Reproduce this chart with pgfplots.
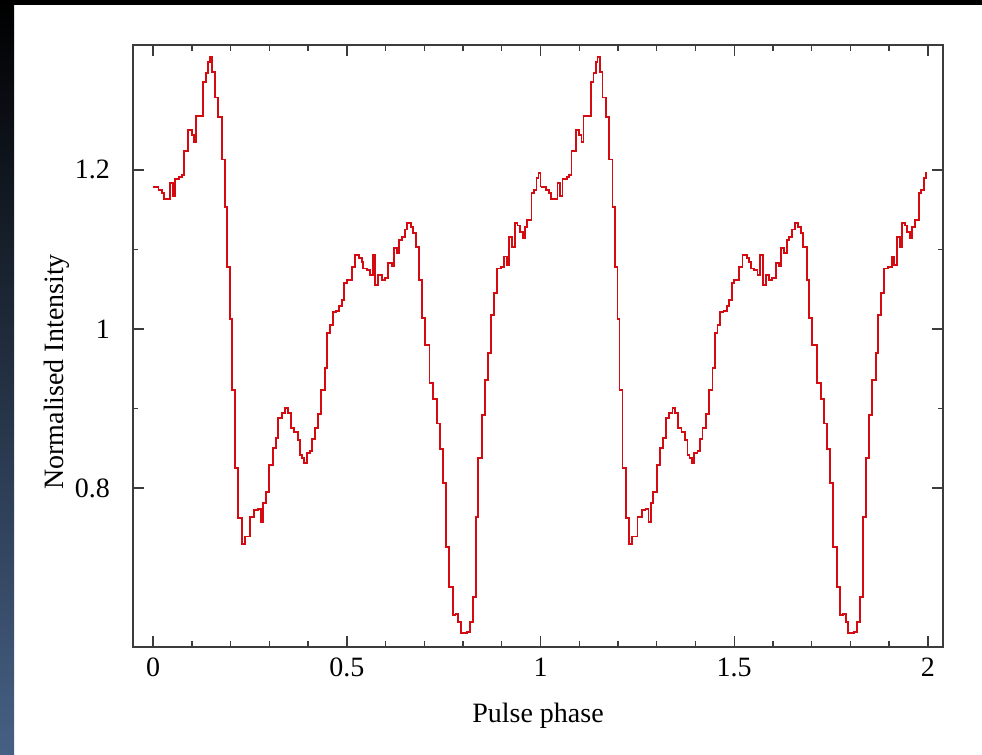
\documentclass[border=0pt]{standalone}
\usepackage{pgfplots}
\usepackage{pgfplotstable}
\pgfplotsset{compat=1.18}
\usepackage{fontspec}
\setmainfont{Liberation Serif}
\definecolor{plotred}{RGB}{212,12,18}
\definecolor{axgray}{RGB}{60,60,60}
\definecolor{slideblue}{RGB}{70,96,132}
\pgfplotstableread{
x y
0.0000 1.179
0.0137 1.175
0.0225 1.171
0.0270 1.163
0.0439 1.184
0.0508 1.167
0.0568 1.188
0.0679 1.191
0.0735 1.193
0.0800 1.224
0.0911 1.250
0.0999 1.244
0.1058 1.235
0.1110 1.268
0.1298 1.311
0.1368 1.322
0.1427 1.336
0.1471 1.342
0.1530 1.323
0.1600 1.291
0.1685 1.267
0.1773 1.213
0.1858 1.153
0.1917 1.078
0.1987 1.012
0.2039 0.923
0.2116 0.825
0.2201 0.762
0.2289 0.729
0.2361 0.739
0.2503 0.763
0.2614 0.772
0.2710 0.774
0.2787 0.757
0.2846 0.781
0.2908 0.795
0.3001 0.829
0.3089 0.850
0.3166 0.863
0.3234 0.888
0.3321 0.894
0.3406 0.900
0.3476 0.894
0.3554 0.875
0.3639 0.870
0.3734 0.860
0.3794 0.841
0.3845 0.838
0.3905 0.831
0.3966 0.844
0.4052 0.846
0.4111 0.861
0.4181 0.875
0.4266 0.893
0.4344 0.923
0.4439 0.951
0.4498 0.995
0.4568 1.005
0.4637 1.021
0.4723 1.023
0.4808 1.029
0.4870 1.036
0.4937 1.058
0.4999 1.062
0.5128 1.078
0.5213 1.093
0.5324 1.089
0.5386 1.084
0.5427 1.076
0.5515 1.074
0.5600 1.068
0.5670 1.093
0.5737 1.055
0.5814 1.068
0.5902 1.062
0.5987 1.064
0.6072 1.083
0.6160 1.079
0.6219 1.102
0.6289 1.096
0.6356 1.112
0.6418 1.116
0.6503 1.125
0.6563 1.133
0.6658 1.128
0.6717 1.121
0.6787 1.103
0.6872 1.062
0.6934 1.014
0.7019 0.980
0.7135 0.932
0.7234 0.912
0.7321 0.881
0.7406 0.849
0.7476 0.806
0.7561 0.726
0.7646 0.675
0.7734 0.640
0.7806 0.642
0.7879 0.631
0.7948 0.618
0.8103 0.619
0.8181 0.631
0.8250 0.663
0.8328 0.764
0.8395 0.838
0.8483 0.892
0.8568 0.936
0.8653 0.970
0.8723 1.018
0.8800 1.045
0.8870 1.076
0.8981 1.078
0.9066 1.091
0.9128 1.080
0.9195 1.116
0.9272 1.103
0.9342 1.133
0.9406 1.130
0.9471 1.122
0.9540 1.114
0.9600 1.128
0.9659 1.137
0.9768 1.171
0.9832 1.175
0.9897 1.190
0.9948 1.196
0.9975 1.196
}\profile
\begin{document}
\begin{tikzpicture}[x=1pt,y=1pt]
\useasboundingbox (0,0) rectangle (491,377.5);
\fill[white] (0,0) rectangle (491,377.5);
\shade[top color=black, bottom color=slideblue] (0,0) rectangle (7,377.5);
\fill[black] (0,375) rectangle (491,377.5);
\begin{axis}[
  at={(66.5pt,54pt)}, anchor=south west,
  scale only axis, width=405pt, height=301pt,
  xmin=-0.052, xmax=2.039, ymin=0.6, ymax=1.357,
  xtick={0,0.5,1,1.5,2}, ytick={0.8,1,1.2},
  minor x tick num=4, minor y tick num=1,
  tick align=inside, tick pos=both,
  major tick length=5.5pt, minor tick length=2.75pt,
  axis line style={axgray, line width=0.9pt},
  every tick/.style={axgray, line width=0.7pt},
  /pgf/number format/assume math mode=true,
  ticklabel style={font=\fontsize{14}{16}\selectfont, text=black},
  xticklabel style={yshift=-2pt},
  yticklabel style={xshift=-8pt},
  xlabel={Pulse phase}, ylabel={Normalised Intensity},
  label style={font=\fontsize{14}{16}\selectfont},
  xlabel style={at={(axis description cs:0.5,-0.115)}, anchor=center},
  ylabel style={at={(axis description cs:-0.094,0.457)}, anchor=center},
]
\addplot[const plot, color=plotred, line width=0.95pt] table[x=x,y=y] {\profile};
\addplot[color=plotred, line width=0.95pt] coordinates {(0.9975,1.196) (1.0,1.196) (1.0,1.179)};
\addplot[const plot, color=plotred, line width=0.95pt] table[x expr=\thisrow{x}+1, y=y] {\profile};
\end{axis}
\end{tikzpicture}
\end{document}
